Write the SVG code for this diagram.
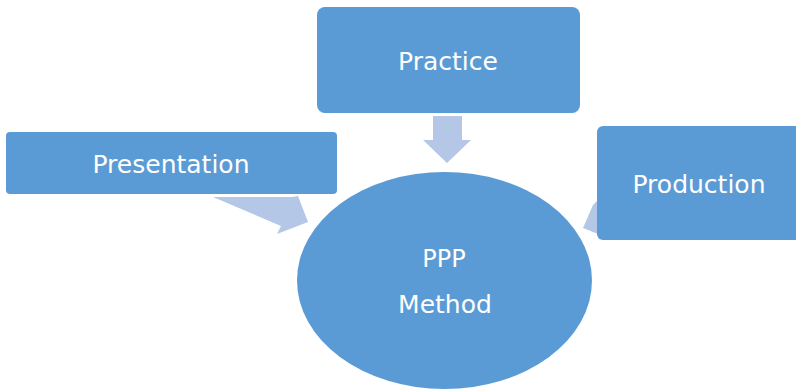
<svg xmlns="http://www.w3.org/2000/svg" width="796" height="390" viewBox="0 0 796 390">
<style>
.box{fill:#5B9BD5;}
.arr{fill:#B4C7E7;}
.t{fill:#FFFFFF;font-family:"DejaVu Sans",sans-serif;font-size:25px;text-anchor:middle;}
</style>
<rect width="796" height="390" fill="#FFFFFF"/>
<g id="connectors">
<polygon class="arr" points="213,197 292,197 298,196 308,222 277,234 281,226"/>
<polygon class="arr" points="433,116 462,116 462,140 471,140 447,163 423,140 433,140"/>
<polygon class="arr" points="598,200 593,205 583,228 598,234"/>
</g>
<g id="presentation">
<rect class="box" x="6" y="132" width="331" height="62" rx="4"/>
<text class="t" x="171" y="173">Presentation</text>
</g>
<g id="practice">
<rect class="box" x="317" y="7" width="263" height="106" rx="8"/>
<text class="t" x="448" y="70">Practice</text>
</g>
<g id="production">
<rect class="box" x="597" y="126" width="212" height="114" rx="6"/>
<text class="t" x="699" y="193">Production</text>
</g>
<g id="ppp">
<ellipse class="box" cx="444.5" cy="280.5" rx="147.5" ry="108.5"/>
<text class="t" x="444" y="267" style="font-size:24px">PPP</text>
<text class="t" x="445" y="313">Method</text>
</g>
</svg>
